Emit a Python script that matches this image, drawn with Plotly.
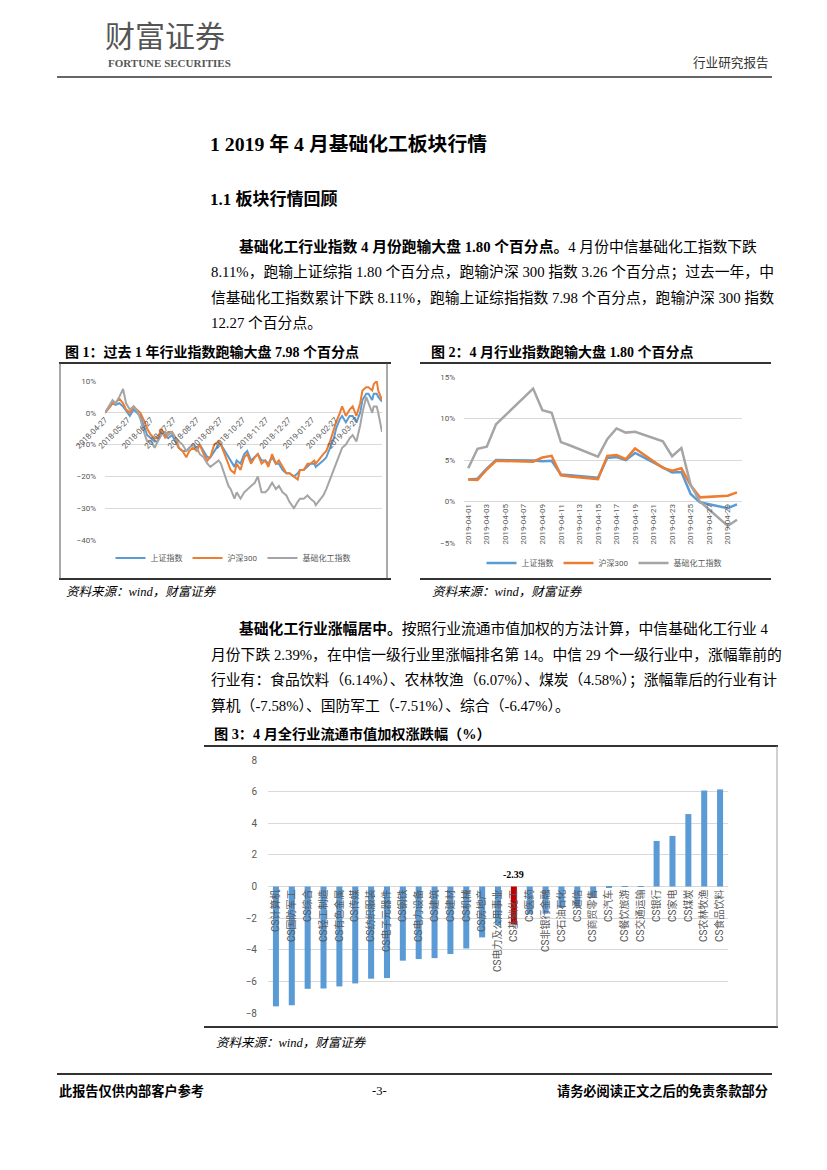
import plotly.graph_objects as go

W, H = 827, 1170

# ---------------- data ----------------
dates_1y = ["2018-04-27","2018-05-02","2018-05-07","2018-05-11","2018-05-16","2018-05-21","2018-05-25",
            "2018-05-30","2018-06-04","2018-06-08","2018-06-13","2018-06-19","2018-06-22","2018-06-27",
            "2018-07-02","2018-07-06","2018-07-11","2018-07-16","2018-07-20","2018-07-25","2018-07-30",
            "2018-08-03","2018-08-08","2018-08-13","2018-08-17","2018-08-22","2018-08-27","2018-08-31",
            "2018-09-05","2018-09-10","2018-09-14","2018-09-19","2018-09-25","2018-09-28","2018-10-08",
            "2018-10-11","2018-10-16","2018-10-19","2018-10-24","2018-10-29","2018-11-02","2018-11-07",
            "2018-11-12","2018-11-16","2018-11-21","2018-11-26","2018-11-30","2018-12-05","2018-12-10",
            "2018-12-14","2018-12-19","2018-12-24","2018-12-28","2019-01-03","2019-01-08","2019-01-11",
            "2019-01-16","2019-01-21","2019-01-25","2019-01-30","2019-02-01","2019-02-11","2019-02-15",
            "2019-02-20","2019-02-25","2019-02-28","2019-03-05","2019-03-08","2019-03-13","2019-03-18",
            "2019-03-22","2019-03-27","2019-04-01","2019-04-04","2019-04-09","2019-04-12","2019-04-17",
            "2019-04-19","2019-04-23","2019-04-25","2019-04-30"]
sz_1y = [0,1.5,3,2.5,3,2,0.5,-1,1,0,-1,-5,-7,-8,-9,-9,-6,-7,-8,-7,-9,-11,-12,-12,-11,-10,-11,-10,-12,-14,
         -14,-12,-10,-10,-14,-15,-17,-15,-16,-13,-12,-15,-14,-13,-15,-15,-16,-14,-16,-16,-18,-19,-19,-20,
         -19,-18,-18,-17,-16,-16,-17,-15,-14,-11,-8,-5,-2,-1,-3,-1,-1,-3,0,4,6,6,4,6,6,5,3.5]
hs300_1y = [0,1.5,3,3,4.5,3,1,0,2,1,0,-3,-5,-7,-8,-8,-5,-8,-6,-6,-8,-11,-12,-14,-12,-11,-12,-10,-13,-15,
            -14,-10,-9,-10,-16,-18,-19,-16,-18,-14,-13,-16,-14,-13,-16,-15,-17,-13,-16,-15,-17,-19,-19,-20,
            -21,-18,-18,-16,-16,-15,-16,-13,-12,-9,-5,-3,0,2,-1,1,2,-1,3,7,8,8,7,9,10,7,4]
chem_1y = [0,2,4,3,5,7.5,3,1,2,1,-2,-7,-9,-9,-11,-9,-7,-6,-7,-6,-8,-9,-10,-12,-11,-10,-11,-13,-14,-16,
           -17,-16,-15,-16,-23,-24,-27,-25,-27,-25,-24,-23,-22,-20,-25,-25,-24,-22,-24,-23,-25,-26,-28,-30,
           -28,-27,-27,-26,-27,-28,-29,-26,-24,-21,-18,-16,-13,-11,-10,-8,-7,-9,-4,0,5,3,0,2,2,0,-6]
ticks_1y = ["2018-04-27","2018-05-27","2018-06-27","2018-07-27","2018-08-27","2018-09-27","2018-10-27",
            "2018-11-27","2018-12-27","2019-01-27","2019-02-27","2019-03-27"]

dates_apr = ["2019-04-01","2019-04-02","2019-04-03","2019-04-04","2019-04-08","2019-04-09","2019-04-10",
             "2019-04-11","2019-04-12","2019-04-15","2019-04-16","2019-04-17","2019-04-18","2019-04-19",
             "2019-04-22","2019-04-23","2019-04-24","2019-04-25","2019-04-26","2019-04-29","2019-04-30"]
sz_apr = [2.65,2.75,3.95,5.0,4.95,4.85,4.9,3.25,3.15,2.85,5.25,5.35,5.0,5.85,4.1,3.5,3.55,0.9,-0.1,-0.8,-0.35]
hs300_apr = [2.65,2.6,3.85,4.9,4.8,5.3,5.5,3.15,3.0,2.7,5.5,5.6,5.1,6.4,4.05,3.7,4.0,1.95,0.5,0.7,1.1]
chem_apr = [4.0,6.35,6.6,9.3,13.6,11.0,10.7,7.15,6.75,5.4,7.5,8.8,8.3,8.4,7.25,5.45,6.45,2.0,0.0,-2.95,-2.2]
ticks_apr = ["2019-04-01","2019-04-03","2019-04-05","2019-04-07","2019-04-09","2019-04-11","2019-04-13",
             "2019-04-15","2019-04-17","2019-04-19","2019-04-21","2019-04-23","2019-04-25","2019-04-27",
             "2019-04-29"]

industries = ["CS计算机","CS国防军工","CS综合","CS轻工制造","CS有色金属","CS传媒","CS纺织服装","CS电子元器件",
              "CS钢铁","CS电力设备","CS建筑","CS建材","CS机械","CS房地产","CS电力及公用事业","CS基础化工",
              "CS医药","CS非银行金融","CS石油石化","CS通信","CS商贸零售","CS汽车","CS餐饮旅游","CS交通运输",
              "CS银行","CS家电","CS煤炭","CS农林牧渔","CS食品饮料"]
returns_apr = [-7.58,-7.51,-6.47,-6.45,-6.32,-6.13,-5.83,-5.79,-4.69,-4.59,-4.53,-4.27,-3.92,-3.22,-2.45,
               -2.39,-1.75,-1.72,-1.35,-1.33,-0.72,-0.06,-0.02,0.01,2.88,3.20,4.58,6.07,6.14]
highlight = "CS基础化工"

# ---------------- helpers ----------------
# the page renders the figure with a small offset from the window corner; compensate
OFFX, OFFY = 9, 7

def px(x):
    return (x - OFFX) / W

def py(y):
    return 1 - (y - OFFY) / H

BLUE, ORANGE, GRAY, RED = "#5B9BD5", "#ED7D31", "#A5A5A5", "#C00000"
SERIF = "Liberation Serif, Noto Sans CJK SC"
CJK = "Noto Sans CJK SC"
CHART = "Roboto, Noto Sans CJK SC"
TICK = "#595959"

fig = go.Figure()

for name, vals, col in [("上证指数", sz_1y, BLUE), ("沪深300", hs300_1y, ORANGE), ("基础化工指数", chem_1y, GRAY)]:
    fig.add_trace(go.Scatter(x=dates_1y, y=vals, mode="lines", name=name,
                             line=dict(color=col, width=2), xaxis="x", yaxis="y", legend="legend"))

for name, vals, col in [("上证指数", sz_apr, BLUE), ("沪深300", hs300_apr, ORANGE), ("基础化工指数", chem_apr, GRAY)]:
    fig.add_trace(go.Scatter(x=dates_apr, y=vals, mode="lines", name=name,
                             line=dict(color=col, width=2.5), xaxis="x2", yaxis="y2", legend="legend2"))

fig.add_trace(go.Bar(x=industries, y=returns_apr, width=0.38,
                     marker=dict(color=[RED if c == highlight else BLUE for c in industries], line=dict(width=0)),
                     xaxis="x3", yaxis="y3", showlegend=False))

def zero_pos(ybot, ytop, ymin, ymax):
    b, t = py(ybot), py(ytop)
    return b + (0 - ymin) / (ymax - ymin) * (t - b)

tf8 = dict(family=CHART, size=8, color=TICK)
tf10 = dict(family=CHART, size=10, color=TICK)

fig.update_layout(
    width=W, height=H, margin=dict(l=0, r=0, t=0, b=0, pad=0, autoexpand=False),
    paper_bgcolor="white", plot_bgcolor="rgba(0,0,0,0)",
    xaxis=dict(domain=[px(106), px(383)], type="date", range=["2018-04-27", "2019-04-30"],
               anchor="free", position=zero_pos(539, 380, -40, 10), automargin=False,
               tickmode="array", tickvals=ticks_1y, ticktext=ticks_1y, tickangle=-45,
               showgrid=False, zeroline=False, showline=False, ticks="", tickfont=tf8),
    yaxis=dict(domain=[py(539), py(380)], range=[-40, 10], dtick=10, tick0=0, ticksuffix="%",
               showgrid=True, gridcolor="#D9D9D9", gridwidth=1, zeroline=False, showline=False,
               ticks="", tickfont=tf8, anchor="x", ticklabelstandoff=8, automargin=False),
    xaxis2=dict(domain=[px(465), px(743)], type="date", range=["2019-03-31 13:00", "2019-04-30 13:00"],
                anchor="free", position=zero_pos(542, 376, -5, 15), automargin=False,
                tickmode="array", tickvals=ticks_apr, ticktext=ticks_apr, tickangle=-90,
                showgrid=False, zeroline=False, showline=False, ticks="", tickfont=tf8),
    yaxis2=dict(domain=[py(542), py(376)], range=[-5, 15], dtick=5, tick0=0, ticksuffix="%",
                showgrid=True, gridcolor="#D9D9D9", gridwidth=1, zeroline=False, showline=False,
                ticks="", tickfont=tf8, anchor="x2", ticklabelstandoff=8, automargin=False),
    xaxis3=dict(domain=[px(269), px(729)], type="category", range=[-0.5, len(industries) - 0.5],
                anchor="free", position=zero_pos(1012, 759, -8, 8), automargin=False,
                tickangle=-90, showgrid=False, zeroline=False, showline=False, ticks="", tickfont=tf10),
    yaxis3=dict(domain=[py(1012), py(759)], range=[-8, 8], dtick=2, tick0=0,
                showgrid=True, gridcolor="#D9D9D9", gridwidth=1, zeroline=False, showline=False,
                ticks="", tickfont=tf10, anchor="x3", ticklabelstandoff=10, automargin=False),
    legend=dict(orientation="h", x=px(234), xanchor="center", y=py(557), yanchor="middle",
                font=dict(family=CHART, size=8, color=TICK), bgcolor="rgba(0,0,0,0)",
                itemwidth=30, tracegroupgap=0),
    legend2=dict(orientation="h", x=px(605), xanchor="center", y=py(562), yanchor="middle",
                 font=dict(family=CHART, size=8, color=TICK), bgcolor="rgba(0,0,0,0)",
                 itemwidth=30, tracegroupgap=0),
)

# ---------------- page text ----------------
ann = []

def txt(x, y, s, size, anchor="left", family=SERIF, color="#000000"):
    ann.append(dict(xref="paper", yref="paper", x=px(x), y=py(y), text=s, showarrow=False,
                    xanchor=anchor, yanchor="middle", font=dict(family=family, size=size, color=color)))

txt(104, 33, "财富证券", 30, family=CJK, color="#555555")
txt(107, 62, "<b>FORTUNE SECURITIES</b>", 11, family="Liberation Serif", color="#555555")
txt(772, 62, "行业研究报告", 12.6, anchor="right", color="#333333")

txt(209, 143, "<b>1 2019 年 4 月基础化工板块行情</b>", 19.8)
txt(209, 199, "<b>1.1 板块行情回顾</b>", 17)

body = 14.8
txt(238, 246, "<b>基础化工行业指数 4 月份跑输大盘 1.80 个百分点。</b>4 月份中信基础化工指数下跌", body)
txt(210, 272, "8.11%，跑输上证综指 1.80 个百分点，跑输沪深 300 指数 3.26 个百分点；过去一年，中", body)
txt(210, 297, "信基础化工指数累计下跌 8.11%，跑输上证综指指数 7.98 个百分点，跑输沪深 300 指数", body)
txt(210, 322, "12.27 个百分点。", body)

txt(64, 351, "<b>图 1：过去 1 年行业指数跑输大盘 7.98 个百分点</b>", 14)
txt(430, 351, "<b>图 2：4 月行业指数跑输大盘 1.80 个百分点</b>", 14)

txt(65, 591, "<i>资料来源：wind，财富证券</i>", 12.5)
txt(431, 591, "<i>资料来源：wind，财富证券</i>", 12.5)

txt(238, 627, "<b>基础化工行业涨幅居中。</b>按照行业流通市值加权的方法计算，中信基础化工行业 4", body)
txt(210, 653, "月份下跌 2.39%，在中信一级行业里涨幅排名第 14。中信 29 个一级行业中，涨幅靠前的", body)
txt(210, 679, "行业有：食品饮料（6.14%）、农林牧渔（6.07%）、煤炭（4.58%）；涨幅靠后的行业有计", body)
txt(210, 705, "算机（-7.58%）、国防军工（-7.51%）、综合（-6.47%）。", body)

txt(213, 733, "<b>图 3：4 月全行业流通市值加权涨跌幅（%）</b>", 14.2)
txt(215, 1042, "<i>资料来源：wind，财富证券</i>", 12.5)

txt(58, 1090, "<b>此报告仅供内部客户参考</b>", 13.2)
txt(380, 1090, "-3-", 12.5, anchor="center")
txt(771, 1090, "<b>请务必阅读正文之后的免责条款部分</b>", 13.2, anchor="right")

# data label on highlighted bar
hi = industries.index(highlight)
ann.append(dict(xref="x3", yref="y3", x=industries[hi], y=0, text="<b>%.2f</b>" % returns_apr[hi],
                showarrow=False, yanchor="bottom", yshift=5,
                font=dict(family="Liberation Serif", size=10, color="#000000")))

fig.update_layout(annotations=ann)

# ---------------- rules / frames ----------------
shapes = []

def hline(x0, x1, y, w=1.5, col="#333333"):
    shapes.append(dict(type="line", xref="paper", yref="paper", x0=px(x0), x1=px(x1), y0=py(y), y1=py(y),
                       line=dict(color=col, width=w)))

def vline(x, y0, y1, w=1, col="#555555"):
    shapes.append(dict(type="line", xref="paper", yref="paper", x0=px(x), x1=px(x), y0=py(y0), y1=py(y1),
                       line=dict(color=col, width=w)))

hline(58, 773, 76, 2.2, "#666666")
hline(60, 392, 362, 2)
hline(60, 392, 578, 2)
vline(61, 362, 578)
vline(388, 362, 578)
hline(421, 772, 362, 2)
hline(421, 772, 578, 2)
hline(205, 779, 745, 2)
hline(205, 779, 1026, 2)
vline(778, 745, 1026, 0.8, "#888888")
hline(58, 773, 1073, 2.2, "#333333")

fig.update_layout(shapes=shapes)

fig.write_html("out.html")
